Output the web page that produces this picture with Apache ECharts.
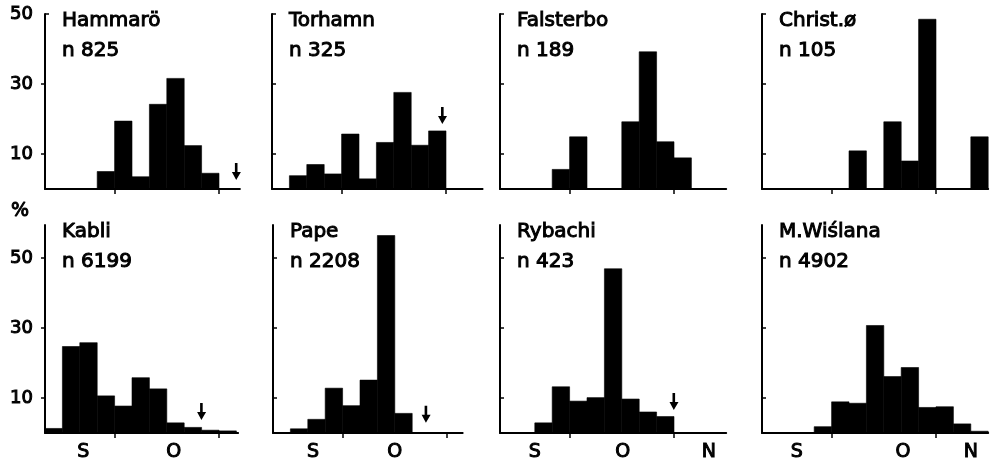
<!DOCTYPE html>
<html><head><meta charset="utf-8">
<script src="https://cdn.jsdelivr.net/npm/echarts@6/dist/echarts.min.js"></script>
<style>html,body{margin:0;padding:0;background:#fff}#c{width:997px;height:466px}</style>
</head><body><div id="c"></div>
<script>
// ---------- data ----------
const siteNames = ['Hammarö', 'Torhamn', 'Falsterbo', 'Christ.ø', 'Kabli', 'Pape', 'Rybachi', 'M.Wiślana'];
const sampleSizes = ['n 825', 'n 325', 'n 189', 'n 105', 'n 6199', 'n 2208', 'n 423', 'n 4902'];
// percentage per 5-day bin, bin 0 = first bin at the y axis
const hammaro   = [0, 0, 0, 5, 19.4, 3.5, 24.2, 31.6, 12.4, 4.5];
const torhamn   = [0, 3.8, 7, 4.3, 15.7, 2.9, 13.3, 27.6, 12.5, 16.6];
const falsterbo = [0, 0, 0, 5.6, 14.9, 0, 0, 19.2, 39.2, 13.5, 8.9];
const christo   = [0, 0, 0, 0, 0, 10.9, 0, 19.2, 8, 48.5, 0, 0, 14.9];
const kabli     = [1.3, 24.7, 25.8, 10.6, 7.7, 15.8, 12.6, 2.9, 1.6, 0.8, 0.6];
const pape      = [0, 1.2, 3.9, 12.8, 7.8, 15.1, 56.4, 5.6];
const rybachi   = [0, 0, 2.9, 13.2, 9.1, 10.1, 46.9, 9.7, 6, 4.7];
const wislana   = [0, 0, 0, 1.8, 8.9, 8.5, 30.7, 16.1, 18.7, 7.3, 7.5, 2.6, 0.5];
const panelValues = [hammaro, torhamn, falsterbo, christo, kabli, pape, rybachi, wislana];
// arrow markers (bin position, value at arrow tip)
const arrowBins = [11.0, 9.8, null, null, 9.0, 8.8, 10.0, null];
const arrowTips = [2.6, 18.6, null, null, 3.7, 2.9, 6.6, null];
// axes
const yTicks = [10, 30, 50];
const monthTicks = [4, 10];
const monthLabels = ['S', 'O', 'N'];
const monthLabelPos = [[], [], [], [], [2.2, 7.4], [2.3, 7.0], [2.0, 7.05, 12.0], [2.0, 8.1, 12.0]];
const unitLabel = '%';

// ---------- layout ----------
const BIN_PX = 17.4;
const lefts = [45, 272, 500, 762, 45, 273, 500, 762];
const xMax = [11.2, 12.1, 13.0, 13.0, 11.1, 10.9, 13.0, 13.0];
const rowTop = [14, 225], rowH = [175, 208], yMax = [50, 59.4];
const titleLeft = [62, 289, 517, 779, 62, 290, 517, 779];
const titleTop = [6, 217];
const FONT = 'DejaVu Sans';
const txt = (size) => ({fontFamily: FONT, fontSize: size, color: '#000', fontWeight: 'normal',
  textBorderColor: '#000', textBorderWidth: 1});

const grids = [], xAxes = [], yAxes = [], series = [], titles = [];
for (let i = 0; i < 8; i++) {
  const row = i < 4 ? 0 : 1, col = i % 4;
  grids.push({left: lefts[i], top: rowTop[row], width: xMax[i] * BIN_PX, height: rowH[row], containLabel: false});
  const labelMap = {};
  monthLabelPos[i].forEach((p, k) => labelMap[p] = monthLabels[k]);
  xAxes.push({
    type: 'value', gridIndex: i, min: 0, max: xMax[i],
    axisLine: {show: true, lineStyle: {color: '#000', width: 2}},
    axisTick: {show: true, customValues: monthTicks, length: 5, inside: false, lineStyle: {color: '#000', width: 1.5}},
    axisLabel: {show: monthLabelPos[i].length > 0, customValues: monthLabelPos[i].length ? monthLabelPos[i] : undefined,
      formatter: v => labelMap[v] || '', margin: 10, ...txt(19)},
    splitLine: {show: false}
  });
  const leftCol = col === 0;
  yAxes.push({
    type: 'value', gridIndex: i, min: 0, max: yMax[row],
    axisLine: {show: true, onZero: false, lineStyle: {color: '#000', width: 2}},
    axisTick: {show: true, customValues: (leftCol && row === 0) ? [10, 30] : yTicks, length: 4, inside: !leftCol,
      lineStyle: {color: '#000', width: 1.5}},
    axisLabel: {show: leftCol, customValues: yTicks, margin: 12, ...txt(18)},
    splitLine: {show: false}
  });
  series.push({
    type: 'custom', xAxisIndex: i, yAxisIndex: i,
    data: panelValues[i].map((v, k) => [k, v]),
    renderItem: (params, api) => {
      const b = api.value(0), v = api.value(1);
      if (!v) return null;
      const p0 = api.coord([b, 0]), p1 = api.coord([b + 1, v]);
      return {type: 'rect', shape: {x: p0[0], y: p1[1], width: p1[0] - p0[0], height: p0[1] - p1[1]},
        style: {fill: '#000', stroke: '#000', lineWidth: 0.6}};
    },
    silent: true, animation: false
  });
  if (arrowBins[i] != null) {
    series.push({
      type: 'scatter', xAxisIndex: i, yAxisIndex: i,
      data: [[arrowBins[i], arrowTips[i]]],
      symbol: 'path://M3,0L5.6,0L5.6,9L9,9L4.3,17L0,9L3,9Z', symbolSize: [9, 17],
      symbolOffset: [0, '-50%'], itemStyle: {color: '#000', opacity: 1},
      silent: true, animation: false
    });
  }
  titles.push({
    text: siteNames[i] + '\n' + sampleSizes[i], left: titleLeft[i], top: titleTop[row], padding: 0,
    textStyle: {...txt(20), lineHeight: 30}
  });
}
// top bracket for top-left panel (tick at 50 pointing inward)
yAxes.push({
  type: 'value', gridIndex: 0, min: 0, max: yMax[0], position: 'left',
  axisLine: {show: false}, axisTick: {show: true, customValues: [50], length: 4, inside: true, lineStyle: {color: '#000', width: 1.5}},
  axisLabel: {show: false}, splitLine: {show: false}
});
titles.push({text: unitLabel, left: 11, top: 202, padding: 0, textStyle: txt(19)});

const chart = echarts.init(document.getElementById('c'), null, {renderer: 'canvas'});
chart.setOption({
  backgroundColor: '#fff', animation: false,
  title: titles, grid: grids, xAxis: xAxes, yAxis: yAxes, series: series
});
</script></body></html>
